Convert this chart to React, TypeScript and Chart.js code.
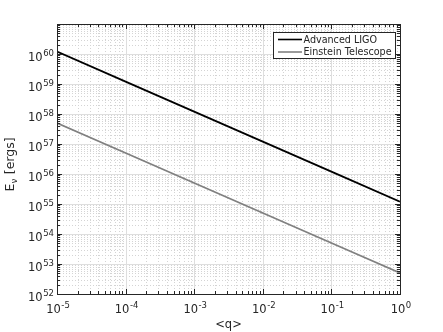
import React, { useEffect, useRef } from 'react';
import { Chart, registerables } from 'chart.js';

Chart.register(...registerables);

const qValues = [1e-5, 1e-4, 1e-3, 1e-2, 1e-1, 1];
const advancedLIGO = [1.2e60, 1.2e59, 1.2e58, 1.2e57, 1.2e56, 1.2e55];
const einsteinTelescope = [5e57, 5e56, 5e55, 5e54, 5e53, 5e52];
const seriesNames = ['Advanced LIGO', 'Einstein Telescope'];
const seriesColors = ['#000000', '#808080'];
const xTickExps = [-5, -4, -3, -2, -1, 0];
const yTickExps = [52, 53, 54, 55, 56, 57, 58, 59, 60, 61];
const yLabelExps = [52, 53, 54, 55, 56, 57, 58, 59, 60];
const xTitle = '<q>';
const yTitleMain = 'E';
const yTitleSub = 'ν';
const yTitleRest = ' [ergs]';

const FONT = '"DejaVu Sans", "Liberation Sans", sans-serif';
const TEXT = '#262626';

function decadeValues(exps: number[]) {
  const major: number[] = [];
  const minor: number[] = [];
  exps.forEach((e, i) => {
    major.push(Number(`1e${e}`));
    if (i < exps.length - 1) {
      for (let k = 2; k <= 9; k++) minor.push(Number(`${k}e${e}`));
    }
  });
  return { major, minor };
}

const decoPlugin = {
  id: 'deco',
  beforeDatasetsDraw(chart: any) {
    const { ctx, chartArea: a, scales } = chart;
    const xs = scales.x, ys = scales.y;
    const xv = decadeValues(xTickExps);
    const yv = decadeValues(yTickExps);
    ctx.save();
    ctx.fillStyle = '#ffffff';
    ctx.fillRect(a.left, a.top, a.right - a.left, a.bottom - a.top);
    ctx.strokeStyle = '#d4d4d4';
    ctx.lineWidth = 1;
    ctx.setLineDash([1, 2]);
    ctx.beginPath();
    xv.minor.forEach((v) => {
      const px = Math.round(xs.getPixelForValue(v)) + 0.5;
      ctx.moveTo(px, a.top);
      ctx.lineTo(px, a.bottom);
    });
    yv.minor.forEach((v) => {
      const py = Math.round(ys.getPixelForValue(v)) + 0.5;
      ctx.moveTo(a.left, py);
      ctx.lineTo(a.right, py);
    });
    ctx.stroke();
    ctx.setLineDash([]);
    ctx.strokeStyle = '#dedede';
    ctx.beginPath();
    xv.major.forEach((v) => {
      const px = Math.round(xs.getPixelForValue(v)) + 0.5;
      ctx.moveTo(px, a.top);
      ctx.lineTo(px, a.bottom);
    });
    yv.major.forEach((v) => {
      const py = Math.round(ys.getPixelForValue(v)) + 0.5;
      ctx.moveTo(a.left, py);
      ctx.lineTo(a.right, py);
    });
    ctx.stroke();
    ctx.restore();
  },
  afterDatasetsDraw(chart: any) {
    const { ctx, chartArea: a, scales } = chart;
    const xs = scales.x, ys = scales.y;
    const xv = decadeValues(xTickExps);
    const yv = decadeValues(yTickExps);
    ctx.save();
    ctx.strokeStyle = TEXT;
    ctx.lineWidth = 1;
    ctx.beginPath();
    const drawX = (v: number, len: number) => {
      const px = Math.round(xs.getPixelForValue(v)) + 0.5;
      ctx.moveTo(px, a.bottom);
      ctx.lineTo(px, a.bottom - len);
      ctx.moveTo(px, a.top);
      ctx.lineTo(px, a.top + len);
    };
    const drawY = (v: number, len: number) => {
      const py = Math.round(ys.getPixelForValue(v)) + 0.5;
      ctx.moveTo(a.left, py);
      ctx.lineTo(a.left + len, py);
      ctx.moveTo(a.right, py);
      ctx.lineTo(a.right - len, py);
    };
    xv.major.forEach((v) => drawX(v, 5));
    xv.minor.forEach((v) => drawX(v, 3));
    yv.major.forEach((v) => drawY(v, 5));
    yv.minor.forEach((v) => drawY(v, 3));
    ctx.stroke();
    ctx.strokeRect(Math.round(a.left) + 0.5, Math.round(a.top) + 0.5, Math.round(a.right - a.left), Math.round(a.bottom - a.top));

    ctx.fillStyle = TEXT;
    const baseFont = `11.5px ${FONT}`;
    const supFont = `8.5px ${FONT}`;
    const measure = (e: number) => {
      ctx.font = baseFont;
      const w1 = ctx.measureText('10').width;
      ctx.font = supFont;
      const w2 = ctx.measureText(String(e)).width;
      return { w1, w2 };
    };
    const drawPow = (left: number, baseline: number, e: number) => {
      const { w1 } = measure(e);
      ctx.textAlign = 'left';
      ctx.textBaseline = 'alphabetic';
      ctx.font = baseFont;
      ctx.fillText('10', left, baseline);
      ctx.font = supFont;
      ctx.fillText(String(e), left + w1 + 0.5, baseline - 5);
    };
    xTickExps.forEach((e) => {
      const px = xs.getPixelForValue(Number(`1e${e}`));
      const { w1, w2 } = measure(e);
      const total = w1 + w2 + 0.5;
      drawPow(px - total / 2 + 1, 313, e);
    });
    yLabelExps.forEach((e) => {
      const py = ys.getPixelForValue(Number(`1e${e}`));
      const { w1, w2 } = measure(e);
      const total = w1 + w2 + 0.5;
      drawPow(a.left - 3 - total, py + 6.5, e);
    });
    ctx.font = `11.5px ${FONT}`;
    ctx.textAlign = 'center';
    ctx.textBaseline = 'middle';
    ctx.fillText(xTitle, (a.left + a.right) / 2, 325);
    ctx.save();
    ctx.translate(14, 164.5);
    ctx.rotate(-Math.PI / 2);
    ctx.textAlign = 'left';
    ctx.textBaseline = 'alphabetic';
    ctx.font = `12.5px ${FONT}`;
    const wE = ctx.measureText(yTitleMain).width;
    const wR = ctx.measureText(yTitleRest).width;
    ctx.font = `8px ${FONT}`;
    const wS = ctx.measureText(yTitleSub).width;
    const tot = wE + wS + wR + 1;
    let cx = -tot / 2;
    ctx.font = `12.5px ${FONT}`;
    ctx.fillText(yTitleMain, cx, 0);
    cx += wE + 0.5;
    ctx.font = `8px ${FONT}`;
    ctx.fillText(yTitleSub, cx, 3);
    cx += wS + 0.5;
    ctx.font = `12.5px ${FONT}`;
    ctx.fillText(yTitleRest, cx, 0);
    ctx.restore();

    const lx = 273, ly = 32, lw = 122, lh = 26;
    ctx.fillStyle = '#ffffff';
    ctx.fillRect(lx, ly, lw, lh);
    ctx.strokeStyle = TEXT;
    ctx.lineWidth = 1;
    ctx.strokeRect(lx + 0.5, ly + 0.5, lw, lh);
    seriesNames.forEach((name, i) => {
      const yy = ly + 7.5 + i * 12.5;
      ctx.strokeStyle = seriesColors[i];
      ctx.lineWidth = 1.6;
      ctx.beginPath();
      ctx.moveTo(lx + 5, yy);
      ctx.lineTo(lx + 29, yy);
      ctx.stroke();
      ctx.fillStyle = TEXT;
      ctx.font = `9.6px ${FONT}`;
      ctx.textAlign = 'left';
      ctx.textBaseline = 'middle';
      ctx.fillText(name, lx + 30.5, yy + 0.5);
    });
    ctx.restore();
  },
};

export default function App() {
  const ref = useRef<HTMLCanvasElement | null>(null);
  useEffect(() => {
    document.body.style.margin = '0';
    const canvas = ref.current;
    if (!canvas) return;
    const chart = new Chart(canvas, {
      type: 'line',
      data: {
        datasets: [
          {
            label: seriesNames[0],
            data: qValues.map((q, i) => ({ x: q, y: advancedLIGO[i] })),
            borderColor: seriesColors[0],
            borderWidth: 1.8,
            pointRadius: 0,
            tension: 0,
          },
          {
            label: seriesNames[1],
            data: qValues.map((q, i) => ({ x: q, y: einsteinTelescope[i] })),
            borderColor: seriesColors[1],
            borderWidth: 1.8,
            pointRadius: 0,
            tension: 0,
          },
        ],
      },
      options: {
        animation: false,
        responsive: false,
        devicePixelRatio: 1,
        layout: { padding: { left: 57, top: 24, right: 43, bottom: 38 } },
        plugins: { legend: { display: false }, tooltip: { enabled: false } },
        scales: {
          x: { type: 'logarithmic', min: 1e-5, max: 1, display: false },
          y: { type: 'logarithmic', min: 1e52, max: 1e61, display: false },
        },
      },
      plugins: [decoPlugin],
    } as any);
    return () => chart.destroy();
  }, []);
  return <canvas ref={ref} width={443} height={332} style={{ display: 'block' }} />;
}
